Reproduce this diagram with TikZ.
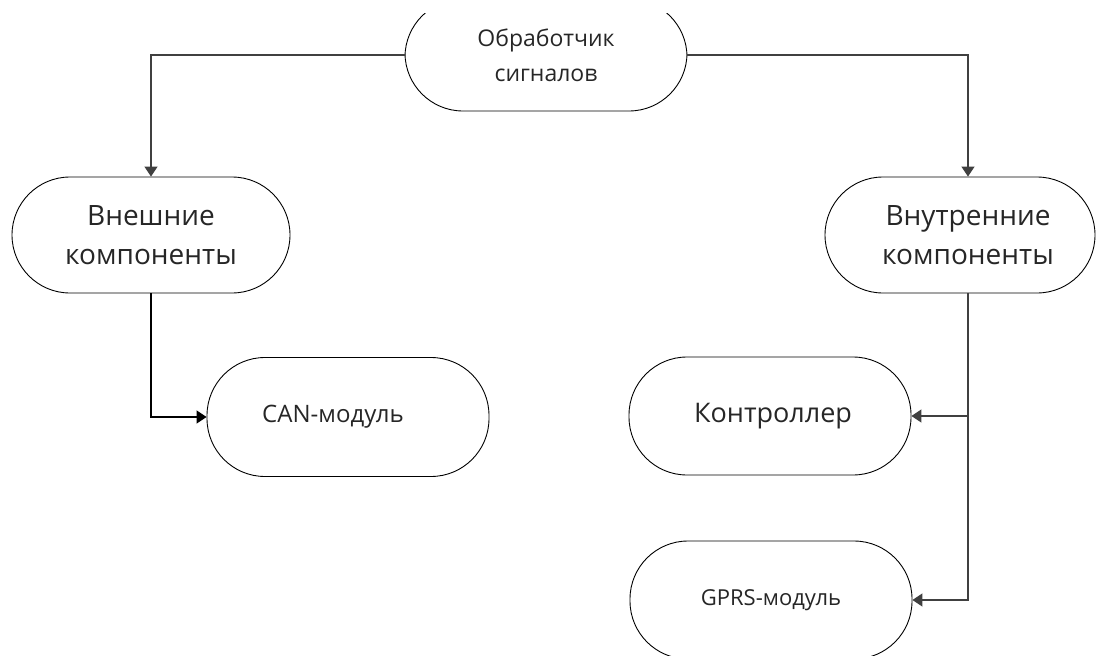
\documentclass[tikz,border=0pt]{standalone}
\usepackage{fontspec}
\setmainfont{Open Sans}
\usetikzlibrary{arrows.meta}

\tikzset{
  pill/.style={draw, line width=0.9pt, rectangle, rounded corners=58pt,
    minimum width=282pt, minimum height=116pt, align=center,
    text=black!85, inner sep=0pt},
  arr/.style={line width=1.2pt, -{Triangle[width=13pt,length=10pt]}}
}

\begin{document}
\begin{tikzpicture}[x=1pt, y=-1pt]
                \useasboundingbox (0,0) rectangle (1098,656);
                \begin{scope}
                \clip (0,13) rectangle (1098,656);
                % 1. The nodes
                \node[pill, minimum height=112pt, font=\fontsize{23}{35}\selectfont]
                    (src) at (546,55) {Обработчик\\сигналов};
                \node[pill, minimum width=278pt, font=\fontsize{28}{39}\selectfont]
                    (ext) at (151,235) {Внешние\\компоненты};
                \node[pill, minimum width=270pt, font=\fontsize{28}{39}\selectfont]
                    (int) at (960,235) {\hspace*{16pt}Внутренние\\\hspace*{16pt}компоненты};
                \node[pill, minimum height=119pt, font=\fontsize{24}{28}\selectfont]
                    (can) at (348,417) {\hspace*{-30pt}CAN-модуль};
                \node[pill, minimum height=118pt, font=\fontsize{27}{32}\selectfont]
                    (ctrl) at (770,416) {\hspace*{6pt}Контроллер};
                \node[pill, minimum height=118pt, font=\fontsize{22}{26}\selectfont]
                    (gprs) at (771,600) {GPRS-модуль};

                % 2. The connectors
                \coordinate (int-s) at ([xshift=8pt]int.south);
                \draw[arr, black!75] (src.west) -| (ext.north);
                \draw[arr, black!75] (src.east) -| ([xshift=8pt]int.north);
                \draw[arr] (ext.south) |- (can.west);
                \draw[arr, black!75] (int-s) |- (ctrl.east);
                \draw[arr, black!75] (int-s) |- (gprs.east);
                \end{scope}
            \end{tikzpicture}
\end{document}
